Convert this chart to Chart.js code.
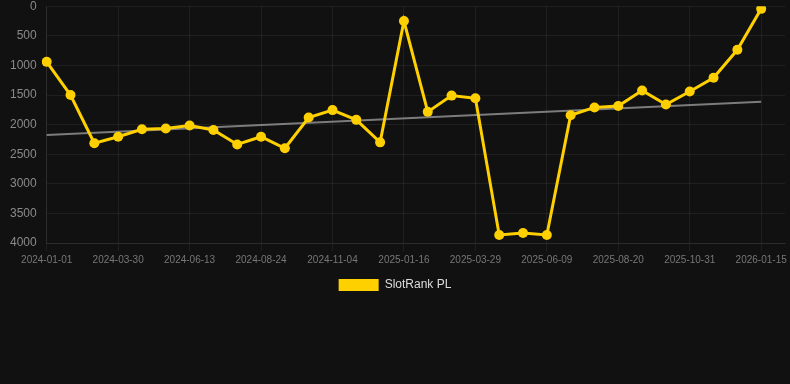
<!DOCTYPE html>
<html>
<head>
<meta charset="utf-8">
<script src="https://cdn.jsdelivr.net/npm/chart.js@4/dist/chart.umd.min.js"></script>
<style>
  html, body { margin: 0; padding: 0; background: #111111; overflow: hidden; }
  #wrap { width: 790px; height: 312px; position: relative; margin-top: -11px; }
</style>
</head>
<body>
<div id="wrap"><canvas id="rank"></canvas></div>
<script>
// dates on the x axis (every 3rd one is shown)
const dates = [
  '2024-01-01', '2024-01-31', '2024-03-01',
  '2024-03-30', '2024-04-24', '2024-05-19',
  '2024-06-13', '2024-07-07', '2024-07-31',
  '2024-08-24', '2024-09-17', '2024-10-11',
  '2024-11-04', '2024-11-28', '2024-12-22',
  '2025-01-16', '2025-02-09', '2025-03-05',
  '2025-03-29', '2025-04-22', '2025-05-16',
  '2025-06-09', '2025-07-03', '2025-07-27',
  '2025-08-20', '2025-09-13', '2025-10-07',
  '2025-10-31', '2025-11-25', '2025-12-20',
  '2026-01-15', ''
];

// rank values (lower = better, axis reversed)
const rankPL = [
  940, 1500, 2315, 2205, 2080, 2065, 2015, 2090, 2335, 2205, 2400,
  1880, 1755, 1920, 2300, 250, 1785, 1510, 1555, 3865, 3830, 3865,
  1842, 1710, 1685, 1423, 1660, 1440, 1210, 737, 45, null
];

// trend line end points
const trendStart = 2175;
const trendEnd = 1615;
const trend = dates.map(function (d, i) {
  if (i === 0) return trendStart;
  if (i === 30) return trendEnd;
  return null;
});

const yTicks = [0, 500, 1000, 1500, 2000, 2500, 3000, 3500, 4000];

const gridColor = 'rgba(255,255,255,0.06)';

new Chart(document.getElementById('rank'), {
  type: 'line',
  data: {
    labels: dates,
    datasets: [
      {
        label: 'SlotRank PL',
        data: rankPL,
        borderColor: '#ffd000',
        backgroundColor: '#ffd000',
        borderWidth: 3,
        pointRadius: 5,
        pointHoverRadius: 5,
        pointBackgroundColor: '#ffd000',
        pointBorderWidth: 0,
        tension: 0
      },
      {
        label: 'trend',
        data: trend,
        borderColor: 'rgba(160,160,160,0.75)',
        borderWidth: 2,
        pointRadius: 0,
        spanGaps: true,
        tension: 0
      }
    ]
  },
  options: {
    responsive: true,
    maintainAspectRatio: false,
    animation: false,
    plugins: {
      legend: {
        position: 'bottom',
        labels: {
          color: '#dddddd',
          font: { family: 'Arial, "Liberation Sans", sans-serif', size: 12 },
          boxWidth: 40,
          boxHeight: 12,
          filter: function (item) {
            item.lineWidth = 0;
            return item.datasetIndex === 0;
          }
        }
      },
      tooltip: { enabled: false }
    },
    scales: {
      x: {
        grid: { color: gridColor, drawTicks: true, tickColor: gridColor },
        border: { color: gridColor },
        ticks: {
          autoSkip: false,
          maxRotation: 0,
          color: '#777777',
          font: { family: 'Arial, "Liberation Sans", sans-serif', size: 10 },
          callback: function (v, i) { return i % 3 === 0 ? dates[i] : null; }
        }
      },
      y: {
        reverse: true,
        min: 0,
        max: 4000,
        grid: { color: gridColor, drawTicks: false },
        border: { color: gridColor },
        afterBuildTicks: function (axis) {
          axis.ticks = yTicks.map(function (v) { return { value: v }; });
        },
        ticks: {
          padding: 10,
          color: '#8a8a8a',
          font: { family: 'Arial, "Liberation Sans", sans-serif', size: 12 },
          callback: function (v) { return String(v); }
        }
      }
    }
  }
});
</script>
</body>
</html>
